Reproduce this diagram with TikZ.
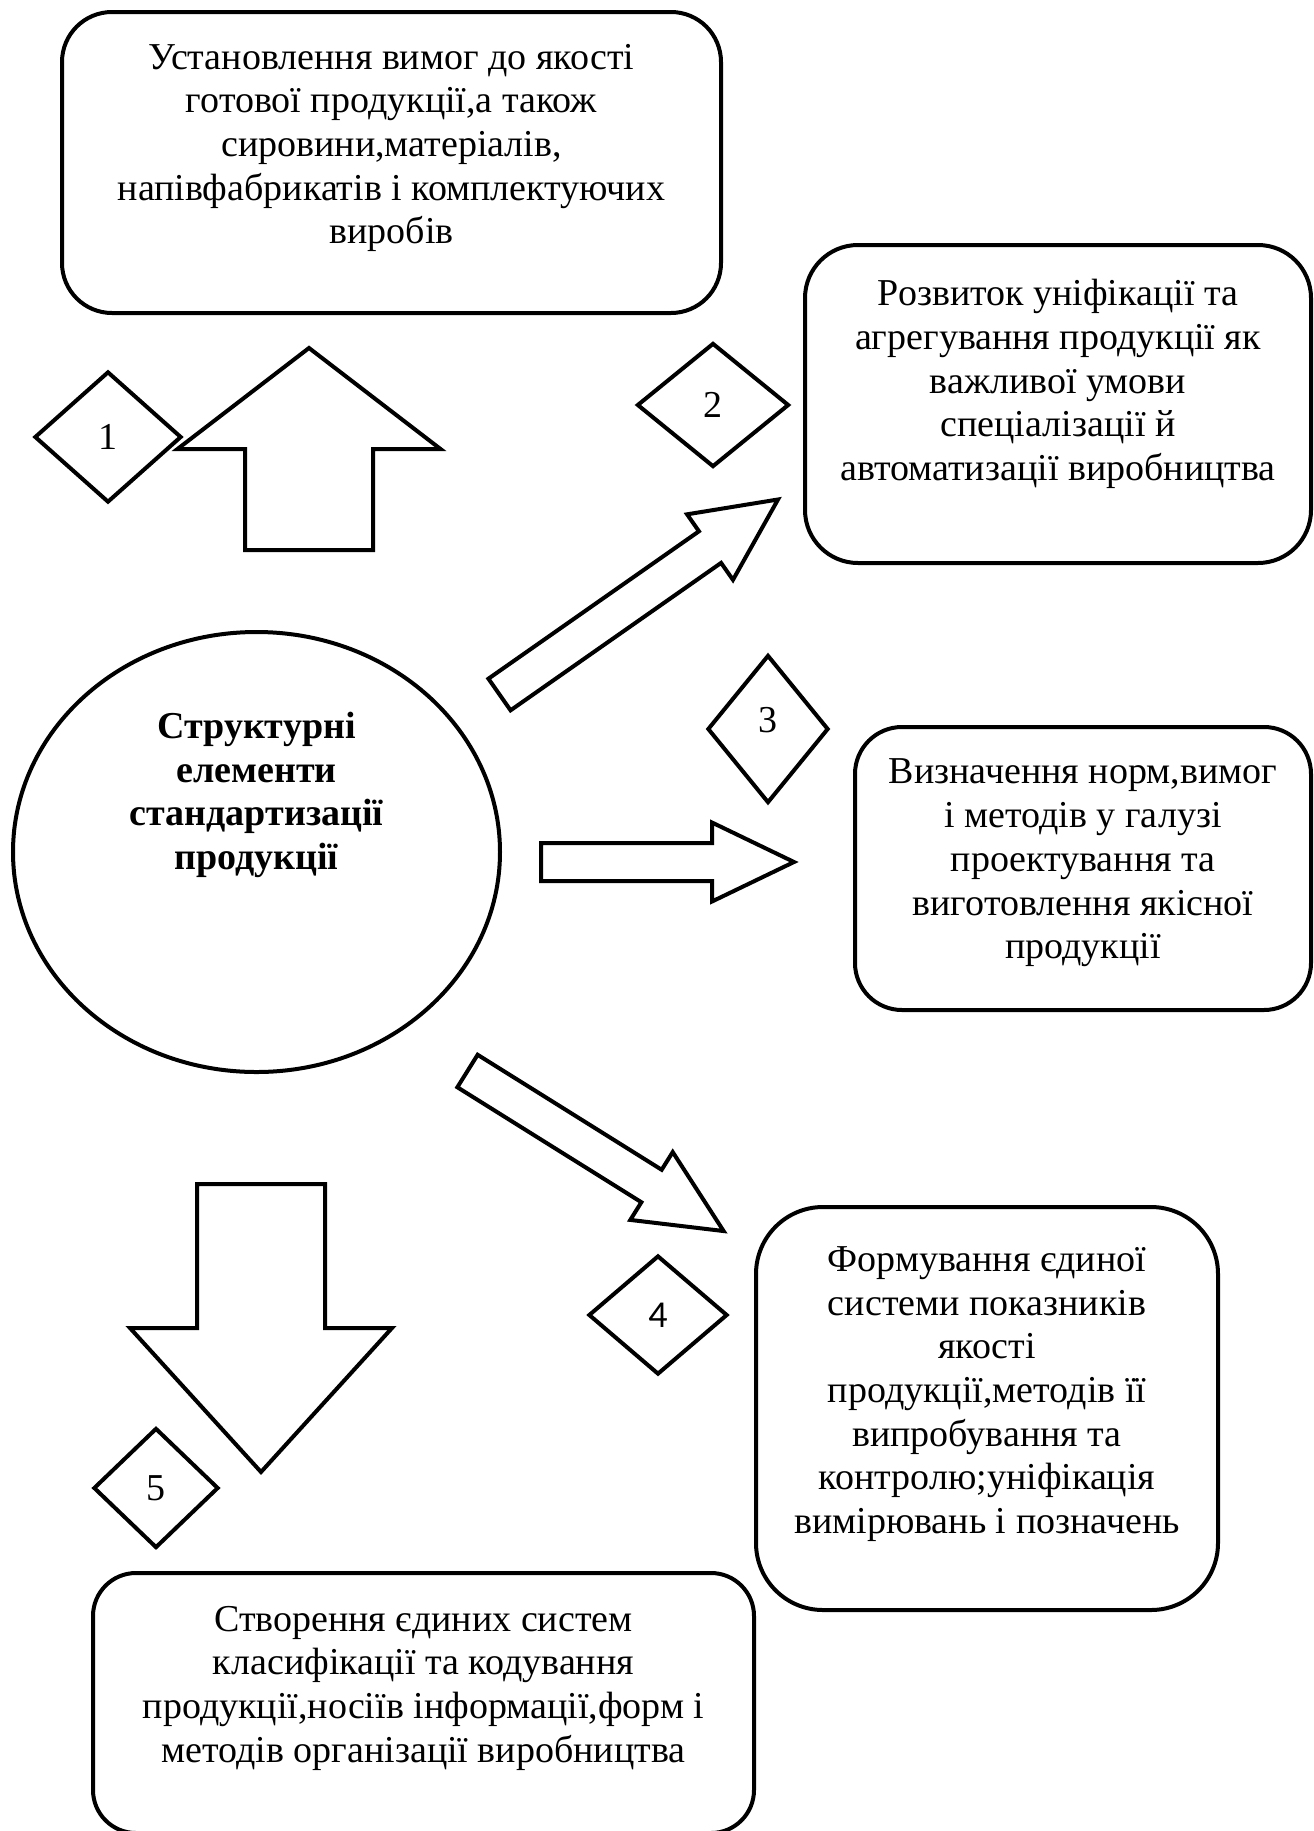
\documentclass[tikz,border=0pt]{standalone}
\usepackage{fontspec}
\setmainfont{Liberation Serif}
\newfontfamily\digitfont{Carlito}
\usetikzlibrary{shapes.geometric}

% block arrow pointing along +x: length, shaft width, head width, head length
\newcommand{\blockarrow}[4]{%
  \draw[blk] (0,-#2/2) -- (#1-#4,-#2/2) -- (#1-#4,-#3/2) -- (#1,0)
    -- (#1-#4,#3/2) -- (#1-#4,#2/2) -- (0,#2/2) -- cycle;}

\begin{document}
\begin{tikzpicture}[
  x=1pt, y=-1pt, line width=4pt,
  box/.style={draw, rectangle, inner sep=0pt},
  txt/.style={align=center, inner sep=0pt, font=\fontsize{38}{43.7}\selectfont},
  num/.style={draw, diamond, inner sep=0pt, font=\fontsize{38}{43.7}\selectfont},
  blk/.style={draw, line join=miter}
]
\useasboundingbox[fill=white] (0,0) rectangle (1314,1831);
% Centre
\node[ellipse, draw, minimum width=487pt, minimum height=440pt, inner sep=0pt] (core) at (256.5,852) {};
\node[txt, font=\fontsize{38}{43.7}\selectfont\bfseries] (core-t) at (256.5,795)
  {Структурні\\елементи\\стандартизації\\продукції};
% Boxes
\node[box, rounded corners=50pt, minimum width=659pt, minimum height=301pt] (req)   at (391.5,162.5) {};
\node[box, rounded corners=53pt, minimum width=506pt, minimum height=318pt] (unif)  at (1058,404)    {};
\node[box, rounded corners=47pt, minimum width=456pt, minimum height=283pt] (norms) at (1083,868.5)  {};
\node[box, rounded corners=67pt, minimum width=462pt, minimum height=403pt] (qual)  at (987,1408.5)  {};
\node[box, rounded corners=43pt, minimum width=661pt, minimum height=260pt] (codes) at (423.5,1703)  {};
% Box texts
\node[txt] (req-t) at (391.5,148)
  {Установлення вимог до якості\\готової продукції,а також\\сировини,матеріалів,\\напівфабрикатів і комплектуючих\\виробів};
\node[txt] (unif-t) at (1058,384)
  {Розвиток уніфікації та\\агрегування продукції як\\важливої умови\\спеціалізації й\\автоматизації виробництва};
\node[txt] (norms-t) at (1083,863)
  {Визначення норм,вимог\\і методів у галузі\\проектування та\\виготовлення якісної\\продукції};
\node[txt] (qual-t) at (987,1394)
  {Формування єдиної\\системи показників\\якості\\продукції,методів її\\випробування та\\контролю;уніфікація\\вимірювань і позначень};
\node[txt] (codes-t) at (423.5,1688)
  {Створення єдиних систем\\класифікації та кодування\\продукції,носіїв інформації,форм і\\методів організації виробництва};
% Numbers
\node[num, minimum width=147pt, minimum height=131pt] (n1) at (108,437)  {1};
\node[num, minimum width=152pt, minimum height=124pt] (n2) at (713,405)  {2};
\node[num, minimum width=121pt, minimum height=148pt, text depth=18pt] (n3) at (768,729) {3};
\node[num, minimum width=139pt, minimum height=119pt, font=\fontsize{38}{43.7}\digitfont] (n4) at (658,1315) {4};
\node[num, minimum width=125pt, minimum height=120pt] (n5) at (156,1488) {5};
% Block arrows
\begin{scope}[shift={(309,550)}, rotate=90]    \blockarrow{202}{128}{263}{101} \end{scope}
\begin{scope}[shift={(499.5,694.5)}, rotate=35] \blockarrow{340}{38.6}{80}{83} \end{scope}
\begin{scope}[shift={(541,862)}]                \blockarrow{253}{38}{79}{82}   \end{scope}
\begin{scope}[shift={(467.5,1071)}, rotate=-32] \blockarrow{302}{38.3}{80}{85} \end{scope}
\begin{scope}[shift={(261,1184)}, rotate=-90]  \blockarrow{288}{128}{262}{144} \end{scope}
\end{tikzpicture}
\end{document}
